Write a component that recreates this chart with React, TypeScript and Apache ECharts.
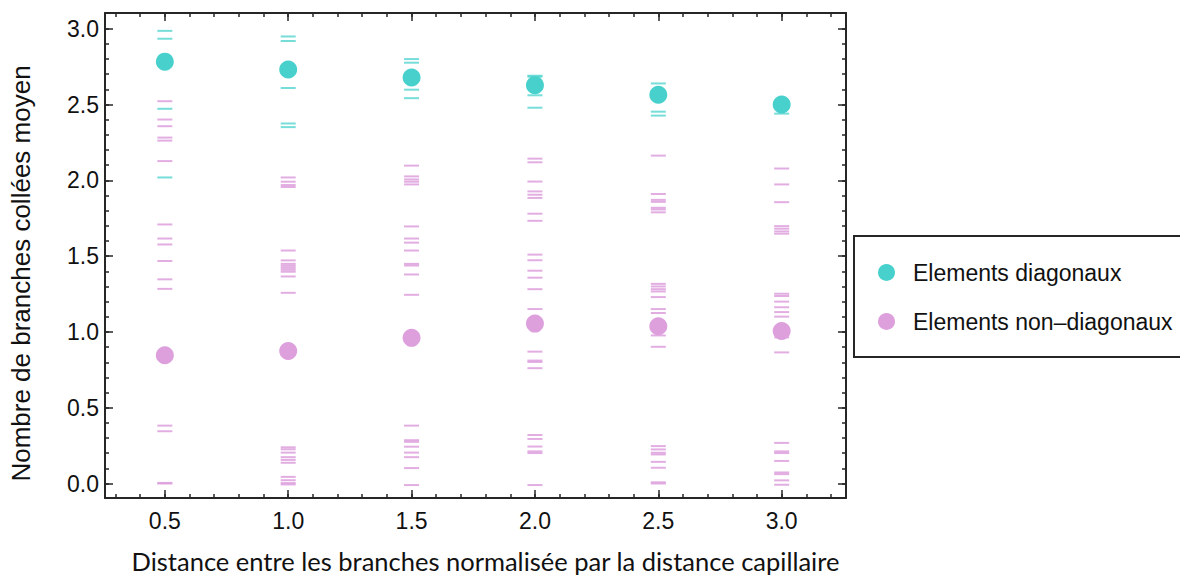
import React, { useEffect, useRef } from "react";
import * as echarts from "echarts";

// ---- data ----
const distances = [0.5, 1.0, 1.5, 2.0, 2.5, 3.0];
const diagonalMeans = [2.783, 2.731, 2.678, 2.628, 2.565, 2.5];
const offDiagonalMeans = [0.846, 0.874, 0.961, 1.055, 1.038, 1.006];

const diagonalRuns05 = [2.986, 2.934, 2.472, 2.019];
const diagonalRuns10 = [2.949, 2.919, 2.609, 2.375, 2.351];
const diagonalRuns15 = [2.8, 2.776, 2.598, 2.542];
const diagonalRuns20 = [2.69, 2.684, 2.561, 2.479];
const diagonalRuns25 = [2.639, 2.453, 2.427];
const diagonalRuns30 = [2.44];

const offDiagonalRuns05 = [2.522, 2.401, 2.357, 2.282, 2.262, 2.127, 1.709, 1.616, 1.577, 1.468, 1.347, 1.284, 0.382, 0.345, 0.004, 0.0];
const offDiagonalRuns10 = [2.019, 1.991, 1.969, 1.956, 1.537, 1.472, 1.449, 1.436, 1.423, 1.41, 1.397, 1.366, 1.258, 0.239, 0.226, 0.204, 0.174, 0.156, 0.137, 0.044, 0.022, 0.003, -0.006];
const offDiagonalRuns15 = [2.097, 2.026, 2.006, 1.991, 1.973, 1.696, 1.616, 1.589, 1.537, 1.449, 1.438, 1.379, 1.245, 0.382, 0.286, 0.275, 0.243, 0.204, 0.174, 0.102, -0.01];
const offDiagonalRuns20 = [2.143, 2.119, 1.992, 1.927, 1.905, 1.884, 1.78, 1.733, 1.51, 1.473, 1.404, 1.358, 1.282, 1.151, 0.87, 0.811, 0.802, 0.761, 0.32, 0.294, 0.244, 0.212, 0.201, -0.01];
const offDiagonalRuns25 = [2.163, 1.91, 1.871, 1.858, 1.819, 1.808, 1.789, 1.317, 1.3, 1.282, 1.267, 1.23, 1.151, 1.125, 0.977, 0.902, 0.247, 0.225, 0.203, 0.192, 0.143, 0.104, 0.008, 0.0];
const offDiagonalRuns30 = [2.078, 1.973, 1.856, 1.698, 1.681, 1.663, 1.648, 1.252, 1.237, 1.2, 1.163, 1.131, 1.101, 0.964, 0.865, 0.268, 0.212, 0.201, 0.149, 0.073, 0.062, 0.021, -0.008];

const diagonalRuns = [diagonalRuns05, diagonalRuns10, diagonalRuns15, diagonalRuns20, diagonalRuns25, diagonalRuns30];
const offDiagonalRuns = [offDiagonalRuns05, offDiagonalRuns10, offDiagonalRuns15, offDiagonalRuns20, offDiagonalRuns25, offDiagonalRuns30];

const xTickLabels = [0.5, 1.0, 1.5, 2.0, 2.5, 3.0];
const xMinorTicks = [0.3, 0.4, 0.5, 0.6, 0.7, 0.8, 0.9, 1.0, 1.1, 1.2, 1.3, 1.4, 1.5, 1.6, 1.7, 1.8, 1.9, 2.0, 2.1, 2.2, 2.3, 2.4, 2.5, 2.6, 2.7, 2.8, 2.9, 3.0, 3.1, 3.2];
const yTickLabels = [0, 0.5, 1.0, 1.5, 2.0, 2.5, 3.0];
const yMinorTicks = [0, 0.1, 0.2, 0.3, 0.4, 0.5, 0.6, 0.7, 0.8, 0.9, 1.0, 1.1, 1.2, 1.3, 1.4, 1.5, 1.6, 1.7, 1.8, 1.9, 2.0, 2.1, 2.2, 2.3, 2.4, 2.5, 2.6, 2.7, 2.8, 2.9, 3.0];

const xTitle = "Distance entre les branches normalisée par la distance capillaire";
const yTitle = "Nombre de branches collées moyen";
const diagName = "Elements diagonaux";
const offName = "Elements non–diagonaux";

// ---- layout / style ----
const X_MIN = 0.2575;
const X_MAX = 3.2607;
const Y_MIN = -0.0954;
const Y_MAX = 3.1038;
const FRAME = "#262626";
const SANS = "'Liberation Sans', Arial, sans-serif";
const CYAN = "#48D1CC";
const PLUM = "#DDA0DD";

function xAxisDef(position: string, ticks: number[], len: number, showLine: boolean, labels?: number[]) {
  return {
    type: "value",
    position,
    min: X_MIN,
    max: X_MAX,
    axisLine: { show: showLine, onZero: false, lineStyle: { color: FRAME, width: 2 } },
    axisTick: { show: true, inside: true, length: len, customValues: ticks, lineStyle: { color: FRAME, width: 1.5 } },
    axisLabel: labels
      ? { show: true, customValues: labels, formatter: (v: number) => v.toFixed(1), margin: 11, fontSize: 23, color: "#111", fontFamily: SANS }
      : { show: false },
    splitLine: { show: false },
    name: labels ? xTitle : "",
    nameLocation: "middle",
    nameGap: 50,
    nameTextStyle: { fontSize: 25.5, color: "#111", fontFamily: "Lato, 'Liberation Sans', sans-serif", padding: [0, 0, 0, 20] },
  };
}

function yAxisDef(position: string, ticks: number[], len: number, showLine: boolean, labels?: number[]) {
  return {
    type: "value",
    position,
    min: Y_MIN,
    max: Y_MAX,
    axisLine: { show: showLine, onZero: false, lineStyle: { color: FRAME, width: 2 } },
    axisTick: { show: true, inside: true, length: len, customValues: ticks, lineStyle: { color: FRAME, width: 1.5 } },
    axisLabel: labels
      ? { show: true, customValues: labels, formatter: (v: number) => v.toFixed(1), margin: 6, fontSize: 23, color: "#111", fontFamily: SANS }
      : { show: false },
    splitLine: { show: false },
    name: labels ? yTitle : "",
    nameLocation: "middle",
    nameGap: 71,
    nameTextStyle: { fontSize: 26, color: "#111", fontFamily: SANS, padding: [0, 36, 0, 0] },
  };
}

const dashPairs = (runs: number[][]) =>
  runs.flatMap((vals, i) => vals.map((v) => [distances[i], v]));
const meanPairs = (means: number[]) => means.map((v, i) => [distances[i], v]);

export default function App() {
  const ref = useRef<HTMLDivElement>(null);
  useEffect(() => {
    if (!ref.current) return;
    const chart = echarts.init(ref.current, undefined, { renderer: "svg" });
    chart.setOption({
      animation: false,
      backgroundColor: "#ffffff",
      grid: { left: 103, top: 13, width: 743, height: 493, containLabel: false },
      xAxis: [
        xAxisDef("bottom", xMinorTicks, 4, true, xTickLabels),
        xAxisDef("bottom", xTickLabels, 8, false),
        xAxisDef("top", xMinorTicks, 4, true),
        xAxisDef("top", xTickLabels, 8, false),
      ],
      yAxis: [
        yAxisDef("left", yMinorTicks, 4, true, yTickLabels),
        yAxisDef("left", yTickLabels, 8, false),
        yAxisDef("right", yMinorTicks, 4, true),
        yAxisDef("right", yTickLabels, 8, false),
      ],
      legend: {
        left: 854,
        top: 236,
        orient: "vertical",
        data: [
          { name: diagName, icon: "circle" },
          { name: offName, icon: "circle" },
        ],
        itemWidth: 17,
        itemHeight: 17,
        itemGap: 26,
        padding: [25, 14, 24, 24],
        borderColor: FRAME,
        borderWidth: 2,
        backgroundColor: "#fff",
        selectedMode: false,
        textStyle: { fontSize: 23, color: "#111", fontFamily: SANS, padding: [0, 0, 0, 13] },
      },
      series: [
        {
          name: "diagRuns",
          type: "scatter",
          xAxisIndex: 0,
          yAxisIndex: 0,
          symbol: "rect",
          symbolSize: [15, 2],
          itemStyle: { color: CYAN, opacity: 0.75 },
          silent: true,
          z: 2,
          data: dashPairs(diagonalRuns),
        },
        {
          name: "offRuns",
          type: "scatter",
          xAxisIndex: 0,
          yAxisIndex: 0,
          symbol: "rect",
          symbolSize: [15, 2],
          itemStyle: { color: PLUM, opacity: 0.85 },
          silent: true,
          z: 2,
          data: dashPairs(offDiagonalRuns),
        },
        {
          name: diagName,
          type: "scatter",
          xAxisIndex: 0,
          yAxisIndex: 0,
          symbol: "circle",
          symbolSize: 18,
          itemStyle: { color: CYAN, opacity: 1 },
          z: 3,
          data: meanPairs(diagonalMeans),
        },
        {
          name: offName,
          type: "scatter",
          xAxisIndex: 0,
          yAxisIndex: 0,
          symbol: "circle",
          symbolSize: 18,
          itemStyle: { color: PLUM, opacity: 1 },
          z: 3,
          data: meanPairs(offDiagonalMeans),
        },
      ],
    });
    return () => chart.dispose();
  }, []);
  return (
    <div
      ref={ref}
      style={{ position: "absolute", left: 0, top: 0, width: 1180, height: 579, background: "#fff" }}
    />
  );
}
